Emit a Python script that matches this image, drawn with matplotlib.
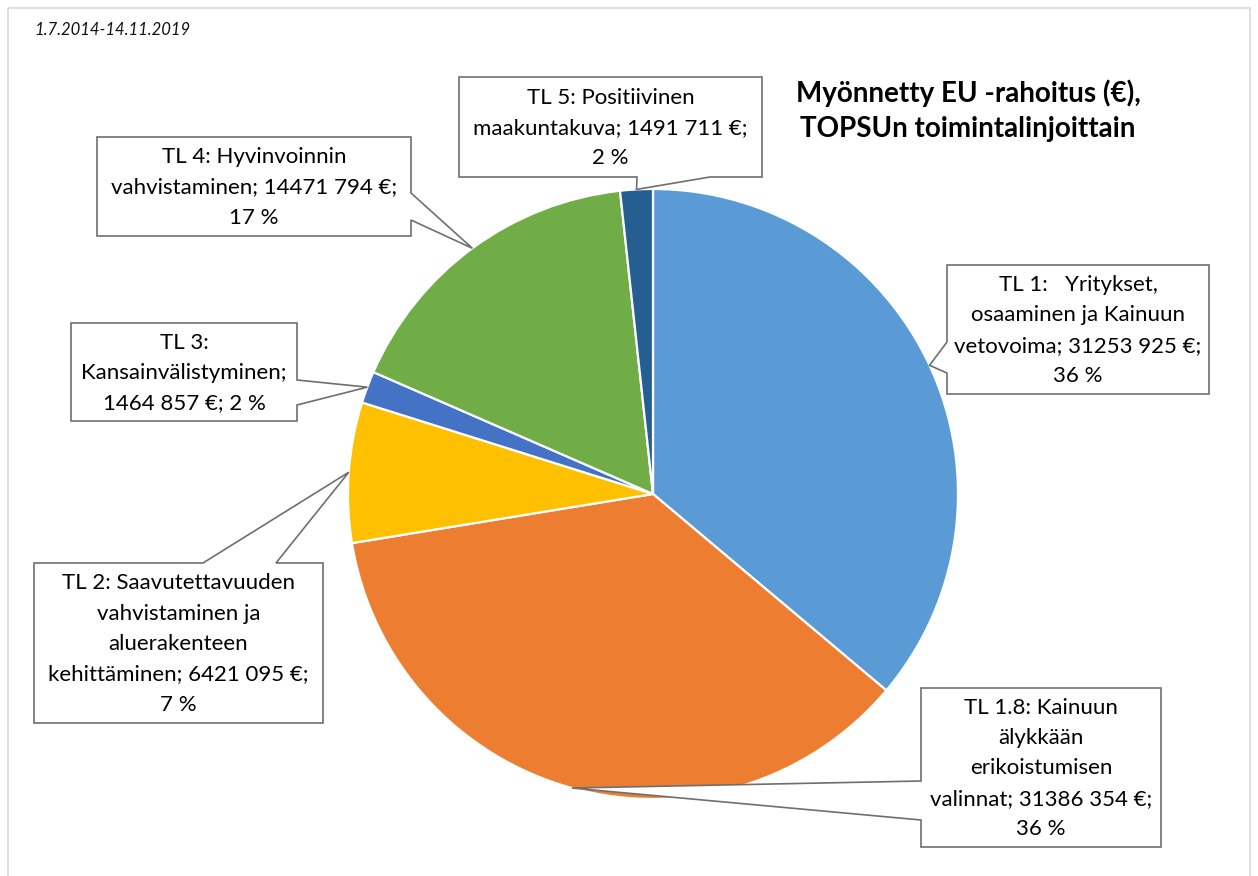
#!/usr/bin/env python3
"""
EU funding by TOPSU action line - pie chart with callout labels
"""

import numpy as np
import matplotlib
matplotlib.use("Agg")
import matplotlib.pyplot as plt
from matplotlib.patches import Polygon, Rectangle

plt.rcParams['font.family'] = ['Lato', 'DejaVu Sans']

# Data
names = ['TL 1', 'TL 1.8', 'TL 2', 'TL 3', 'TL 4', 'TL 5']
amounts = [31253925, 31386354, 6421095, 1464857, 14471794, 1491711]
label_templates = [
    'TL 1:   Yritykset,\nosaaminen ja Kainuun\nvetovoima; {amt} €;\n{pct} %',
    'TL 1.8: Kainuun\nälykkään\nerikoistumisen\nvalinnat; {amt} €;\n{pct} %',
    'TL 2: Saavutettavuuden\nvahvistaminen ja\naluerakenteen\nkehittäminen; {amt} €;\n{pct} %',
    'TL 3:\nKansainvälistyminen;\n{amt} €; {pct} %',
    'TL 4: Hyvinvoinnin\nvahvistaminen; {amt} €;\n{pct} %',
    'TL 5: Positiivinen\nmaakuntakuva; {amt} €;\n{pct} %',
]
colors = ['#5B9BD5', '#ED7D31', '#FFC000', '#4472C4', '#70AD47', '#255E91']
title = 'Myönnetty EU -rahoitus (€),\nTOPSUn toimintalinjoittain'
period = '1.7.2014-14.11.2019'

# Layout (pixels, y down)
W, H = 1258, 876
pie_center = (653, 494)
pie_radius = 305
# box: (left, top, right, bottom), side of the pointer, pointer base positions
callouts = [
    ((947, 265, 1209, 394), 'left', (342, 373)),
    ((921, 688, 1161, 847), 'left', (781, 820)),
    ((34, 563, 323, 723), 'top', (203, 276)),
    ((71, 323, 297, 421), 'right', (380, 405)),
    ((97, 137, 411, 236), 'right', (193, 220)),
    ((459, 77, 762, 177), 'bottom', (637, 710)),
]


def fmt_amount(v):
    return f"{v // 1000} {v % 1000:03d}"


def callout_vertices(box, side, bases, tip):
    l, t, r, b = box
    b1, b2 = bases
    if side == 'top':
        return [(l, t), (b1, t), tip, (b2, t), (r, t), (r, b), (l, b)]
    if side == 'right':
        return [(l, t), (r, t), (r, b1), tip, (r, b2), (r, b), (l, b)]
    if side == 'bottom':
        return [(l, t), (r, t), (r, b), (b2, b), tip, (b1, b), (l, b)]
    return [(l, t), (r, t), (r, b), (l, b), (l, b2), tip, (l, b1)]


fig = plt.figure(figsize=(W / 100, H / 100), dpi=100)
ax = fig.add_axes([0, 0, 1, 1])

wedges, _ = ax.pie(amounts, colors=colors, center=pie_center, radius=pie_radius,
                   startangle=-90, counterclock=True,
                   wedgeprops=dict(edgecolor='white', linewidth=1.6))

ax.set_xlim(0, W)
ax.set_ylim(H, 0)
ax.set_aspect('auto')
ax.axis('off')

# outer chart border
ax.add_patch(Rectangle((8, 8), W - 16, H + 20, fill=False,
                       edgecolor='#d9d9d9', linewidth=1.2, zorder=1))

total = sum(amounts)
for wedge, amt, tmpl, (box, side, bases) in zip(wedges, amounts, label_templates, callouts):
    mid = np.deg2rad((wedge.theta1 + wedge.theta2) / 2)
    tip = (pie_center[0] + pie_radius * np.cos(mid),
           pie_center[1] + pie_radius * np.sin(mid))
    poly = Polygon(callout_vertices(box, side, bases, tip), closed=True,
                   facecolor='white', edgecolor='#6f6f6f', linewidth=1.2, zorder=3)
    ax.add_patch(poly)
    text = tmpl.format(amt=fmt_amount(amt), pct=round(100 * amt / total))
    l, t, r, b = box
    ax.text((l + r) / 2, (t + b) / 2 + 1, text, ha='center', va='center',
            multialignment='center', fontsize=16, linespacing=1.65,
            color='#000000', zorder=4)

ax.text(968, 111, title, ha='center', va='center', fontsize=20,
        fontweight='bold', linespacing=1.42, color='#000000')
ax.text(34, 30, period, ha='left', va='center', fontsize=12,
        fontstyle='italic', color='#111111')

fig.savefig('out.png', dpi=100)
plt.close(fig)
